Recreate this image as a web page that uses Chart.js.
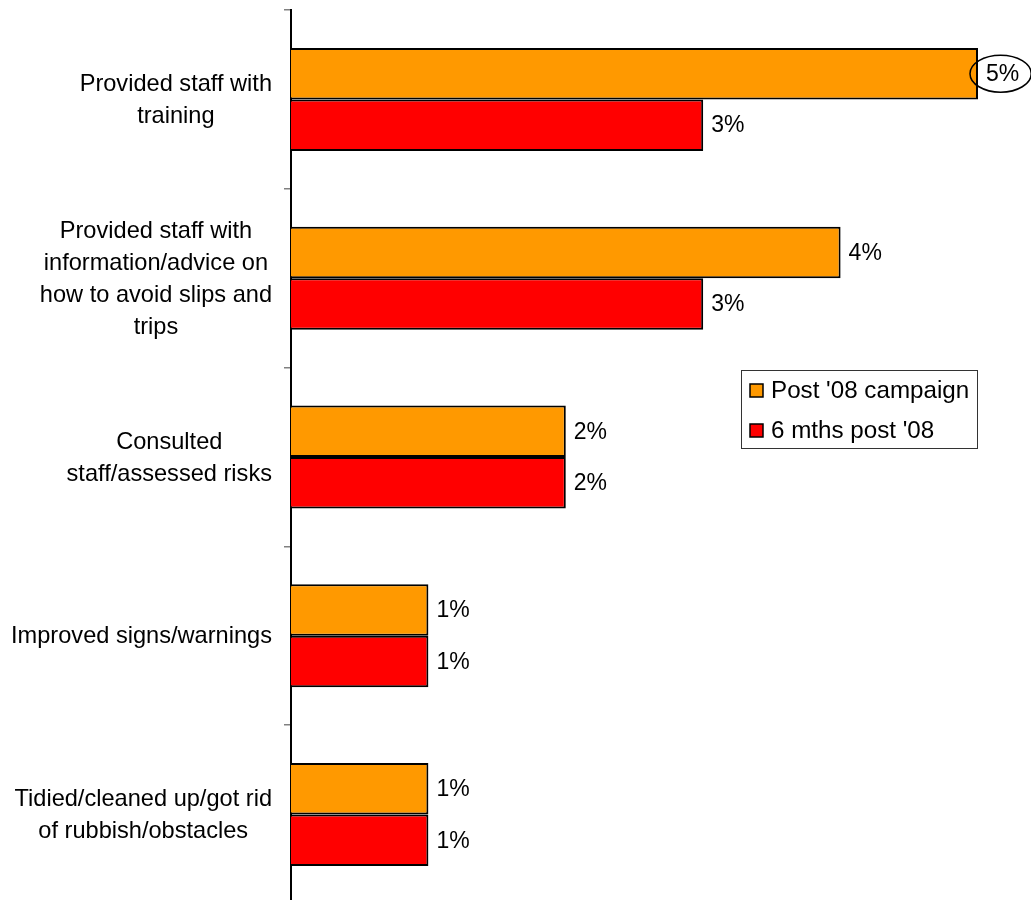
<!DOCTYPE html>
<html>
<head>
<meta charset="utf-8">
<script src="https://cdn.jsdelivr.net/npm/chart.js@4/dist/chart.umd.min.js"></script>
<style>
  html, body { margin: 0; padding: 0; background: #fff; overflow: hidden; }
  #wrap { width: 1031px; height: 904px; position: relative; }
</style>
</head>
<body>
<div id="wrap"><canvas id="c" width="1031" height="904"></canvas></div>
<script>
const categories = [
  ["Provided staff with", "training"],
  ["Provided staff with", "information/advice on", "how to avoid slips and", "trips"],
  ["Consulted", "staff/assessed risks"],
  ["Improved signs/warnings"],
  ["Tidied/cleaned up/got rid", "of rubbish/obstacles"]
];
const seriesNames = ["Post '08 campaign", "6 mths post '08"];
const post08 = [5, 4, 2, 1, 1];
const sixMonths = [3, 3, 2, 1, 1];
const post08Circled = [true, false, false, false, false];
const sixMonthsCircled = [false, false, false, false, false];

const FONT = '"Liberation Sans", Arial, sans-serif';
const FS = 23.6;

const labelsPlugin = {
  id: 'customDraw',
  afterDatasetsDraw(chart) {
    const ctx = chart.ctx;
    ctx.save();
    ctx.font = '23px ' + FONT;
    ctx.fillStyle = '#000';
    ctx.textBaseline = 'middle';
    ctx.textAlign = 'left';
    chart.data.datasets.forEach((ds, di) => {
      const meta = chart.getDatasetMeta(di);
      meta.data.forEach((el, i) => {
        const txt = ds.data[i] + '%';
        const tx = el.x + 8;
        ctx.fillText(txt, tx, el.y + 1);
        if (ds.circled && ds.circled[i]) {
          const w = ctx.measureText(txt).width;
          ctx.beginPath();
          ctx.ellipse(tx + w / 2 - 2, el.y, w / 2 + 14, 18.5, 0, 0, Math.PI * 2);
          ctx.lineWidth = 1.5;
          ctx.strokeStyle = '#000';
          ctx.stroke();
        }
      });
    });
    ctx.restore();
  },
  afterDraw(chart) {
    const ctx = chart.ctx;
    const ys = chart.scales.y;
    ctx.save();
    ctx.font = FS + 'px ' + FONT;
    ctx.fillStyle = '#000';
    ctx.textBaseline = 'middle';
    ctx.textAlign = 'center';
    const right = chart.chartArea.left - 19;
    const lh = 32;
    chart.data.labels.forEach((lines, i) => {
      const arr = Array.isArray(lines) ? lines : [lines];
      const maxW = Math.max(...arr.map(l => ctx.measureText(l).width));
      const cx = right - maxW / 2;
      const cy = ys.getPixelForValue(i) + 1;
      arr.forEach((l, k) => {
        ctx.fillText(l, cx, cy + (k - (arr.length - 1) / 2) * lh);
      });
    });
    // legend
    ctx.font = '24.2px ' + FONT;
    const bx = 741, by = 370, bw = 236, bh = 78;
    ctx.strokeStyle = '#333';
    ctx.lineWidth = 1;
    ctx.strokeRect(bx + 0.5, by + 0.5, bw, bh);
    ctx.textAlign = 'left';
    chart.data.datasets.forEach((ds, di) => {
      const iy = by + 20 + di * 40;
      ctx.fillStyle = ds.backgroundColor;
      ctx.fillRect(bx + 9, iy - 6, 13, 13);
      ctx.strokeStyle = '#000';
      ctx.lineWidth = 1.5;
      ctx.strokeRect(bx + 9, iy - 6, 13, 13);
      ctx.fillStyle = '#000';
      ctx.fillText(ds.label, bx + 30, iy + 1);
    });
    ctx.restore();
  }
};

new Chart(document.getElementById('c'), {
  type: 'bar',
  data: {
    labels: categories,
    datasets: [
      { label: seriesNames[0], data: post08, circled: post08Circled,
        backgroundColor: '#FF9900', borderColor: '#000', borderWidth: 2 },
      { label: seriesNames[1], data: sixMonths, circled: sixMonthsCircled,
        backgroundColor: '#FF0000', borderColor: '#000', borderWidth: 2 }
    ]
  },
  options: {
    indexAxis: 'y',
    responsive: false,
    animation: false,
    layout: { padding: { top: 10, right: 53, bottom: 0, left: 0 } },
    datasets: { bar: { categoryPercentage: 0.576, barPercentage: 1.0 } },
    plugins: { legend: { display: false }, tooltip: { enabled: false } },
    scales: {
      x: { display: false, min: 0, max: 5 },
      y: {
        afterFit(s) { s.width = 291; },
        grid: { offset: true, drawOnChartArea: false, drawTicks: true, tickLength: 7, color: '#808080', lineWidth: 1.5 },
        border: { color: '#000', width: 2 },
        ticks: { display: false }
      }
    }
  },
  plugins: [labelsPlugin]
});
</script>
</body>
</html>
